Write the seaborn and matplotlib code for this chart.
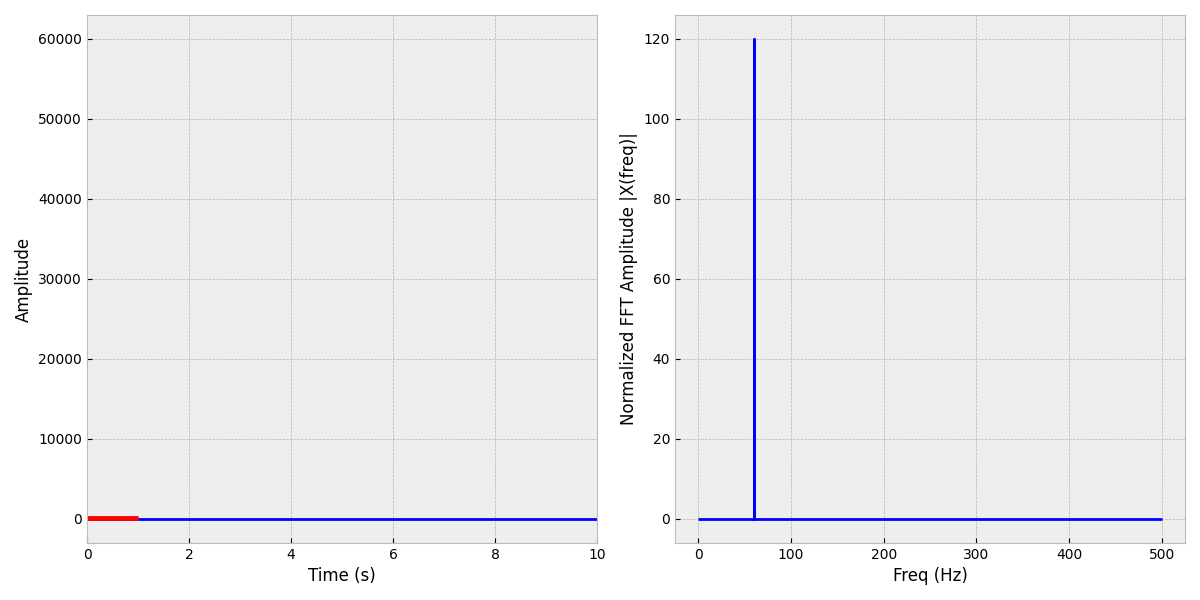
import matplotlib
matplotlib.use('Agg')
import matplotlib.pyplot as plt
import seaborn as sns
import pandas as pd

# Sinyal waktu
t_signal = [0.0, 0.25, 0.5, 0.75, 1.0]
amp_signal = [100, 100, 100, 100, 100]
t_full = [0.0, 10.0]
amp_full = [0, 0]

# Spektrum FFT
freq = [0, 60, 60, 60, 500]
fft_amp = [0, 0, 120, 0, 0]

sns.set_theme(style='whitegrid', rc={
    'axes.facecolor': '#eeeeee',
    'axes.edgecolor': '#bcbcbc',
    'axes.linewidth': 0.8,
    'axes.labelcolor': 'black',
    'axes.labelpad': 4.0,
    'text.color': 'black',
    'grid.color': '#b2b2b2',
    'grid.linestyle': '--',
    'grid.linewidth': 0.5,
    'xtick.bottom': True,
    'ytick.left': True,
    'xtick.direction': 'in',
    'ytick.direction': 'in',
    'xtick.color': 'black',
    'ytick.color': 'black',
    'xtick.major.pad': 3.5,
    'ytick.major.pad': 3.5,
    'axes.labelsize': 12,
    'xtick.labelsize': 10,
    'ytick.labelsize': 10,
    'lines.solid_capstyle': 'butt',
})
plt.rcParams['font.family'] = ['DejaVu Sans']

fig, axes = plt.subplots(1, 2, figsize=(12, 6), dpi=100)

ax = axes[0]
sns.lineplot(x=t_full, y=amp_full, color='blue', linewidth=2, estimator=None, ax=ax)
sns.lineplot(x=t_signal, y=amp_signal, color='red', linewidth=3.5, estimator=None, ax=ax)
ax.set_xlim(0, 10)
ax.set_ylim(-3000, 63000)
ax.set_xlabel('Time (s)')
ax.set_ylabel('Amplitude')

ax = axes[1]
sns.lineplot(x=freq, y=fft_amp, color='blue', linewidth=2, sort=False, estimator=None, ax=ax)
ax.set_xlim(-25, 525)
ax.set_ylim(-6, 126)
ax.set_xlabel('Freq (Hz)')
ax.set_ylabel('Normalized FFT Amplitude |X(freq)|')

for a in axes:
    a.grid(True, linestyle='--', linewidth=0.5, color='#b2b2b2')
    a.tick_params(length=3.5, width=0.8, direction='in')

fig.subplots_adjust(left=0.0725, right=0.9875, top=0.975, bottom=0.095, wspace=0.153)
plt.savefig('out.png')
